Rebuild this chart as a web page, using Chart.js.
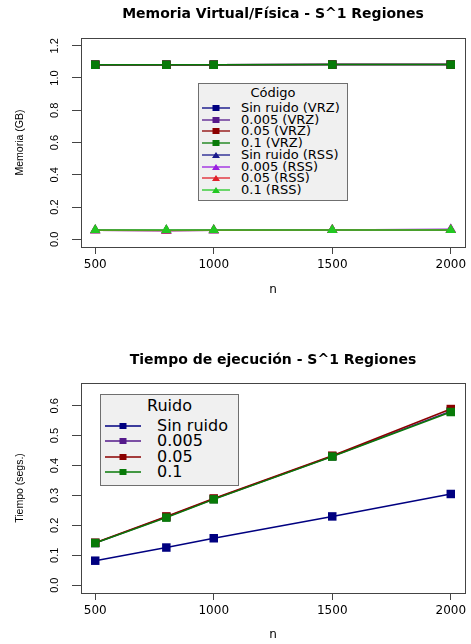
<!DOCTYPE html>
<html>
<head>
<meta charset="utf-8">
<script src="https://cdn.jsdelivr.net/npm/chart.js@4.4.0/dist/chart.umd.min.js"></script>
<style>
  body { margin: 0; background: #fff; width: 471px; height: 644px; overflow: hidden; position: relative; }
  .panel { position: absolute; left: 0; width: 471px; }
  .leyenda { position: absolute; background: #f0f0f0; border: 1px solid #6f6f6f; box-sizing: border-box; font-family: "DejaVu Sans", sans-serif; color: #000; }
  .leyenda .titulo { position: absolute; left: 0; right: 0; text-align: center; }
  .leyenda .fila { position: absolute; left: 0; white-space: nowrap; }
  .leyenda svg { position: absolute; top: 0; }
  .leyenda span { position: absolute; }
</style>
</head>
<body>
<div class="panel" style="top:0;height:320px"><canvas id="grafico1" width="471" height="320"></canvas></div>
<div class="panel" style="top:320px;height:324px"><canvas id="grafico2" width="471" height="324"></canvas></div>
<div class="leyenda" id="leyenda1"></div>
<div class="leyenda" id="leyenda2"></div>
<script>
// valores de n
const n_vals = [500, 800, 1000, 1500, 2000];
const x_ticks = [500, 1000, 1500, 2000];

// memoria (GB)
const mem_sin_vrz = [1.082, 1.082, 1.082, 1.083, 1.083];
const mem_005_vrz = [1.082, 1.082, 1.082, 1.083, 1.083];
const mem_05_vrz = [1.082, 1.082, 1.082, 1.083, 1.083];
const mem_01_vrz = [1.082, 1.082, 1.082, 1.083, 1.083];
const mem_sin_rss = [0.056, 0.055, 0.056, 0.057, 0.058];
const mem_005_rss = [0.056, 0.055, 0.056, 0.058, 0.062];
const mem_05_rss = [0.056, 0.055, 0.056, 0.057, 0.058];
const mem_01_rss = [0.057, 0.057, 0.057, 0.058, 0.058];
const mem_y_ticks = [0, 0.2, 0.4, 0.6, 0.8, 1.0, 1.2];

// tiempo (segs.)
const tiempo_sin = [0.082, 0.126, 0.157, 0.230, 0.305];
const tiempo_005 = [0.141, 0.228, 0.288, 0.431, 0.582];
const tiempo_05 = [0.142, 0.230, 0.290, 0.433, 0.589];
const tiempo_01 = [0.141, 0.226, 0.287, 0.430, 0.579];
const tiempo_y_ticks = [0, 0.1, 0.2, 0.3, 0.4, 0.5, 0.6];

const eje_color = "#444";

function serie(label, valores, color, forma, orden) {
  return {
    label: label,
    data: n_vals.map(function (n, i) { return { x: n, y: valores[i] }; }),
    borderColor: color,
    backgroundColor: color,
    pointBackgroundColor: color,
    pointBorderColor: color,
    pointStyle: forma,
    pointRadius: 6,
    pointBorderWidth: 0,
    borderWidth: 1.5,
    order: orden,
  };
}

// caja alrededor del area de datos (estilo R) + etiquetas del eje y giradas
const caja = {
  id: "caja",
  afterDraw: function (chart) {
    const a = chart.chartArea;
    const ctx = chart.ctx;
    ctx.save();
    ctx.strokeStyle = eje_color;
    ctx.lineWidth = 1;
    ctx.strokeRect(Math.round(a.left) + 0.5, Math.round(a.top) + 0.5, Math.round(a.right - a.left), Math.round(a.bottom - a.top));
    const y = chart.scales.y;
    ctx.fillStyle = "#000";
    ctx.font = "11px 'Liberation Sans'";
    ctx.textAlign = "center";
    ctx.textBaseline = "middle";
    y.ticks.forEach(function (t) {
      ctx.save();
      ctx.translate(a.left - 26, y.getPixelForValue(t.value));
      ctx.rotate(-Math.PI / 2);
      ctx.fillText(t.value.toFixed(1), 0, 0);
      ctx.restore();
    });
    ctx.restore();
  },
};

function opciones(titulo, titulo_y, y_min, y_max, y_ticks, alto_x, pad_titulo, pad_n) {
  return {
    responsive: false,
    animation: false,
    layout: { padding: { left: 0, right: 5, top: 0, bottom: 0 } },
    plugins: {
      legend: { display: false },
      tooltip: { enabled: false },
      title: {
        display: true,
        fullSize: false,
        text: titulo,
        color: "#000",
        font: { family: "DejaVu Sans", size: 14, weight: "bold", lineHeight: 1.2 },
        padding: pad_titulo,
      },
    },
    scales: {
      x: {
        type: "linear",
        min: 440,
        max: 2060,
        afterBuildTicks: function (scale) { scale.ticks = x_ticks.map(function (v) { return { value: v }; }); },
        afterFit: function (scale) { scale.height = alto_x; },
        grid: { display: true, drawOnChartArea: false, drawTicks: true, tickLength: 7, color: eje_color },
        border: { display: true, color: eje_color },
        ticks: { color: "#000", padding: 4, maxRotation: 0, font: { family: "DejaVu Sans", size: 12 }, callback: function (v) { return String(v); } },
        title: { display: true, text: "n", color: "#000", font: { family: "DejaVu Sans", size: 12 }, padding: { top: 0, bottom: pad_n } },
      },
      y: {
        type: "linear",
        min: y_min,
        max: y_max,
        afterBuildTicks: function (scale) { scale.ticks = y_ticks.map(function (v) { return { value: v }; }); },
        afterFit: function (scale) { scale.width = 81; },
        grid: { display: true, drawOnChartArea: false, drawTicks: true, tickLength: 9, color: eje_color },
        border: { display: true, color: eje_color },
        ticks: { display: false },
        title: { display: true, text: titulo_y, color: "#000", font: { family: "Liberation Sans", size: 10.5 }, padding: { top: 14, bottom: 0 } },
      },
    },
  };
}

const grafico1 = new Chart("grafico1", {
  type: "line",
  data: {
    datasets: [
      serie("Sin ruido (VRZ)", mem_sin_vrz, "#000080", "rect", 8),
      serie("0.005 (VRZ)", mem_005_vrz, "#551a8b", "rect", 7),
      serie("0.05 (VRZ)", mem_05_vrz, "#8b0000", "rect", 6),
      serie("0.1 (VRZ)", mem_01_vrz, "#087a08", "rect", 5),
      serie("Sin ruido (RSS)", mem_sin_rss, "#1a1a8c", "triangle", 4),
      serie("0.005 (RSS)", mem_005_rss, "#9a1ee0", "triangle", 3),
      serie("0.05 (RSS)", mem_05_rss, "#e0202a", "triangle", 2),
      serie("0.1 (RSS)", mem_01_rss, "#22c822", "triangle", 1),
    ],
  },
  options: opciones("Memoria Virtual/Física - S^1 Regiones", "Memoria (GB)", -0.048, 1.248, mem_y_ticks, 73, { top: 6.2, bottom: 15 }, 23),
  plugins: [caja],
});

const grafico2 = new Chart("grafico2", {
  type: "line",
  data: {
    datasets: [
      serie("Sin ruido", tiempo_sin, "#000080", "rect", 4),
      serie("0.005", tiempo_005, "#551a8b", "rect", 3),
      serie("0.05", tiempo_05, "#8b0000", "rect", 2),
      serie("0.1", tiempo_01, "#087a08", "rect", 1),
    ],
  },
  options: opciones("Tiempo de ejecución - S^1 Regiones", "Tiempo (segs.)", -0.026, 0.676, tiempo_y_ticks, 51, { top: 32.2, bottom: 14 }, 1.5),
  plugins: [caja],
});

// leyenda con caja gris dentro del grafico
function leyenda(id, chart, titulo, cfg) {
  const el = document.getElementById(id);
  el.style.left = cfg.left + "px";
  el.style.top = cfg.top + "px";
  el.style.width = cfg.width + "px";
  el.style.height = cfg.height + "px";
  el.style.fontSize = cfg.font + "px";
  let html = '<div class="titulo" style="top:' + (cfg.titulo_y - 10) + 'px;line-height:20px">' + titulo + "</div>";
  chart.data.datasets.forEach(function (ds, i) {
    const cy = cfg.fila_y + i * cfg.paso;
    const m = cfg.linea / 2;
    let marca;
    if (ds.pointStyle === "triangle") {
      marca = '<polygon points="' + (m - 4) + ',8 ' + (m + 4) + ',8 ' + m + ',2" fill="' + ds.borderColor + '"/>';
    } else {
      marca = '<rect x="' + (m - 3.5) + '" y="2" width="7" height="6" fill="' + ds.borderColor + '"/>';
    }
    html += '<div class="fila" style="top:' + (cy - 10) + 'px;height:20px">' +
      '<svg width="' + cfg.linea + '" height="10" style="left:' + cfg.linea_x + 'px;top:5px">' +
      '<line x1="0" y1="5" x2="' + cfg.linea + '" y2="5" stroke="' + ds.borderColor + '" stroke-width="1.3"/>' + marca + "</svg>" +
      '<span style="left:' + cfg.texto_x + 'px;top:0;line-height:20px">' + ds.label + "</span></div>";
  });
  el.innerHTML = html;
}

leyenda("leyenda1", grafico1, "Código", { left: 198, top: 83, width: 150, height: 118, font: 13, titulo_y: 9, fila_y: 24, paso: 11.7, linea_x: 3, linea: 28, texto_x: 42 });
leyenda("leyenda2", grafico2, "Ruido", { left: 100, top: 394, width: 139, height: 92, font: 16, titulo_y: 11, fila_y: 31, paso: 15.4, linea_x: 4, linea: 36, texto_x: 56 });
</script>
</body>
</html>
